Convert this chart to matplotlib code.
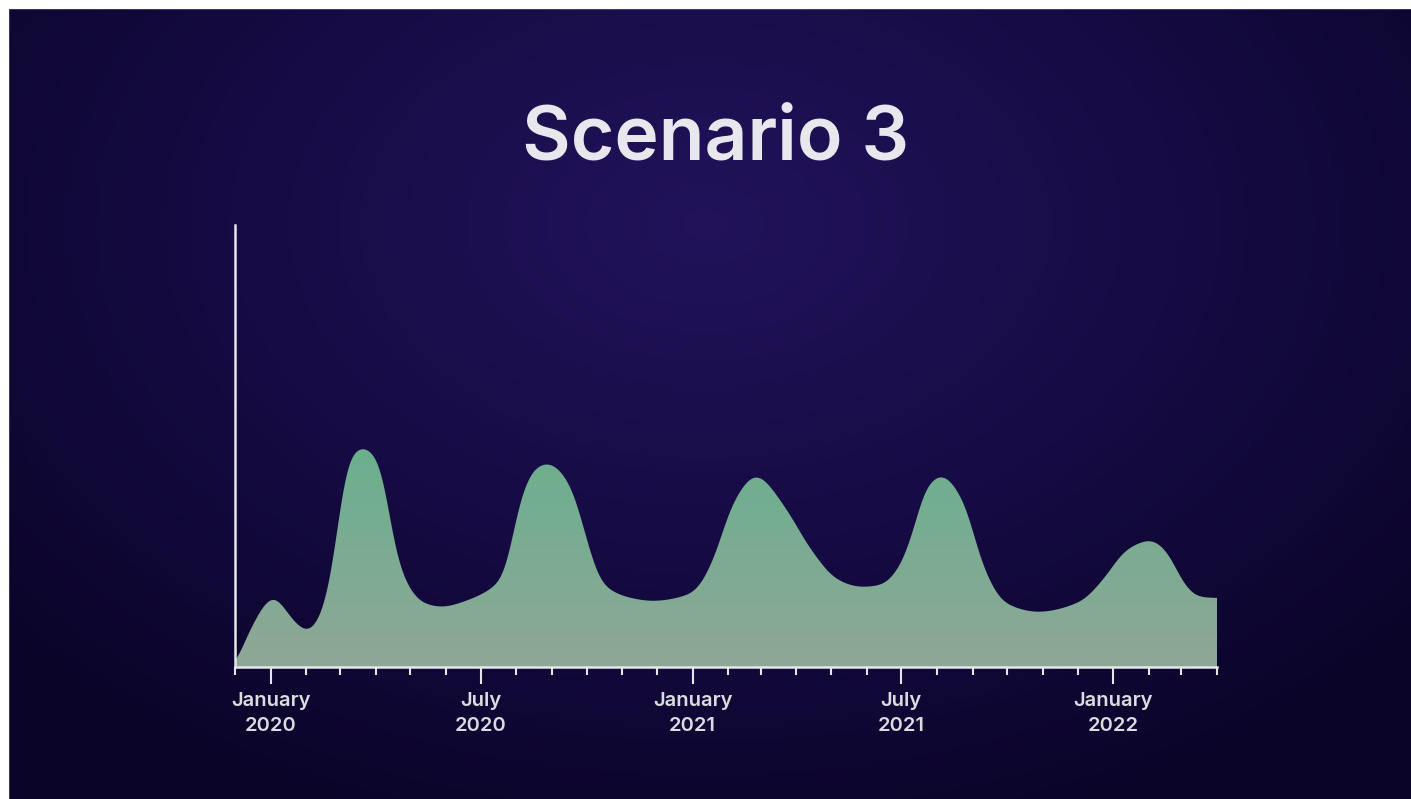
import numpy as np
import pandas as pd
from matplotlib import pyplot as plt
import matplotlib.dates as mdates
from matplotlib.colors import LinearSegmentedColormap
from matplotlib.patches import Rectangle

# data (arbitrary units)
dates = ['2019-12-01', '2019-12-14', '2020-01-04', '2020-01-18', '2020-02-02',
         '2020-02-12', '2020-02-22', '2020-02-28', '2020-03-04', '2020-03-10',
         '2020-03-21', '2020-04-05', '2020-04-11', '2020-04-16', '2020-04-22',
         '2020-05-01', '2020-05-12', '2020-05-29', '2020-06-18', '2020-07-04',
         '2020-07-21', '2020-08-05', '2020-08-18', '2020-08-29', '2020-09-18',
         '2020-09-29', '2020-10-14', '2020-11-05', '2020-11-27', '2021-01-01',
         '2021-01-18', '2021-02-05', '2021-02-25', '2021-03-21', '2021-04-14',
         '2021-05-07', '2021-05-27', '2021-06-14', '2021-06-28', '2021-07-12',
         '2021-07-21', '2021-08-05', '2021-08-25', '2021-09-09', '2021-09-29',
         '2021-10-28', '2021-12-03', '2021-12-25', '2022-01-12', '2022-02-03',
         '2022-02-20', '2022-03-01', '2022-03-16', '2022-04-01']
values = [0, 37, 71, 50, 35,
          47, 87, 137, 187, 212,
          220, 204, 170, 127, 100,
          77, 64, 60, 66, 74,
          90, 170, 200, 204, 180,
          137, 84, 70, 66, 74,
          104, 164, 192, 162, 117,
          87, 80, 82, 97, 137,
          177, 192, 164, 104, 64,
          55, 65, 90, 117, 127,
          110, 87, 70, 69]
major_ticks = ['2020-01-01', '2020-07-01', '2021-01-01', '2021-07-01', '2022-01-01']
major_labels = ['January\n2020', 'July\n2020', 'January\n2021', 'July\n2021', 'January\n2022']
title = 'Scenario 3'


def pchip(x, y, xs):
    # monotone cubic so the curve does not overshoot between points
    x = np.asarray(x, float)
    y = np.asarray(y, float)
    h = np.diff(x)
    d = np.diff(y) / h
    m = np.zeros_like(y)
    for k in range(1, len(y) - 1):
        if d[k - 1] * d[k] > 0:
            w1 = 2 * h[k] + h[k - 1]
            w2 = h[k] + 2 * h[k - 1]
            m[k] = (w1 + w2) / (w1 / d[k - 1] + w2 / d[k])
    m[0] = d[0]
    m[-1] = d[-1]
    i = np.clip(np.searchsorted(x, xs) - 1, 0, len(x) - 2)
    t = (xs - x[i]) / h[i]
    h00 = 2 * t**3 - 3 * t**2 + 1
    h10 = t**3 - 2 * t**2 + t
    h01 = -2 * t**3 + 3 * t**2
    h11 = t**3 - t**2
    return h00 * y[i] + h10 * h[i] * m[i] + h01 * y[i + 1] + h11 * h[i] * m[i + 1]


def smooth(xs, ys, sigma_days):
    step = xs[1] - xs[0]
    half = int(4 * sigma_days / step)
    k = np.exp(-0.5 * (np.arange(-half, half + 1) * step / sigma_days) ** 2)
    k /= k.sum()
    padded = np.concatenate([np.full(half, ys[0]), ys, np.full(half, ys[-1])])
    return np.convolve(padded, k, mode='valid')


x = mdates.date2num(pd.to_datetime(dates))
xs = np.linspace(x[0], x[-1], 3000)
ys = smooth(xs, pchip(x, values, xs), 5.5)
ys[0] = 0
ys = np.clip(ys, 0, None)

fig = plt.figure(figsize=(14.11, 7.99), dpi=100)

# background
bg = fig.add_axes([0, 0, 1, 1])
gx, gy = np.meshgrid(np.linspace(0, 1, 400), np.linspace(0, 1, 240))
r = np.sqrt(((gx - 0.5) / 0.75) ** 2 + ((gy - 0.28) / 0.9) ** 2)
bg_cmap = LinearSegmentedColormap.from_list('bg', ['#22135a', '#160b44', '#0a0428'])
bg.imshow(r, cmap=bg_cmap, aspect='auto', extent=[0, 1, 1, 0], vmin=0, vmax=0.9)
bg.set_xlim(0, 1)
bg.set_ylim(1, 0)
bg.axis('off')
bg.add_patch(Rectangle((0, 0), 1, 8 / 799, color='white', zorder=5))
bg.add_patch(Rectangle((0, 0), 8 / 1411, 1, color='white', zorder=5))

fig.text(716 / 1411, 1 - 140 / 799, title, ha='center', va='center',
         fontsize=54, fontweight='semibold', family='Inter', color='#e9e7ee')

ax = fig.add_axes([235 / 1411, 1 - 667 / 799, (1217 - 235) / 1411, (667 - 225) / 799])
ax.patch.set_alpha(0)
ax.set_xlim(x[0], x[-1])
ax.set_ylim(0, 442)

poly = ax.fill_between(xs, 0, ys, color='none', lw=0)
grad = np.linspace(0, 1, 256).reshape(-1, 1)
fill_cmap = LinearSegmentedColormap.from_list('fill', ['#6ab08d', '#8ea797'])
img = ax.imshow(grad, cmap=fill_cmap, aspect='auto', origin='upper',
                extent=[x[0], x[-1], 0, 225], zorder=1)
img.set_clip_path(poly.get_paths()[0], transform=ax.transData)

for s in ['top', 'right']:
    ax.spines[s].set_visible(False)
for s in ['left', 'bottom']:
    ax.spines[s].set_color('#e6e6ea')
    ax.spines[s].set_linewidth(1.8)
    ax.spines[s].set_zorder(3)

ax.set_yticks([])
ax.set_xticks(mdates.date2num(pd.to_datetime(major_ticks)))
ax.set_xticklabels(major_labels, fontsize=14.5, fontweight='semibold', family='Inter',
                   color='#dcdbe0', linespacing=1.5)
ax.xaxis.set_minor_locator(mdates.MonthLocator())
ax.tick_params(axis='x', which='major', length=12, width=1.5, color='#e6e6ea', pad=6)
ax.tick_params(axis='x', which='minor', length=5.5, width=1.5, color='#e6e6ea')

fig.savefig('out.png', dpi=100)
